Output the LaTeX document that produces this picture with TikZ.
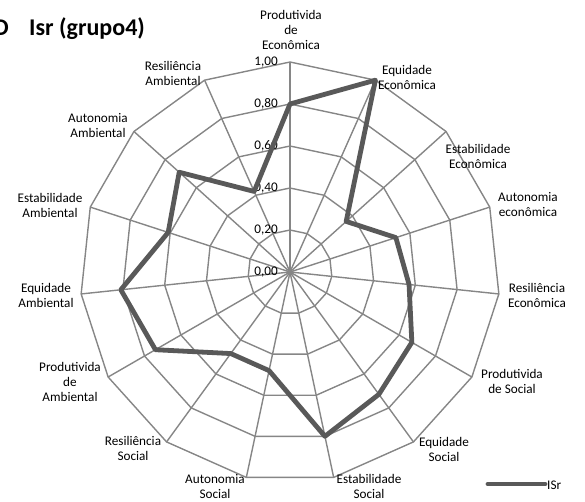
\documentclass[tikz,border=0pt]{standalone}
\usepackage{fontspec}
\setmainfont{Carlito}
\definecolor{gridgray}{RGB}{134,134,134}
\definecolor{seriesgray}{RGB}{89,89,89}
\begin{document}
\begin{tikzpicture}[x=1pt,y=-1pt,
  gridline/.style={draw=gridgray,line width=1.4pt},
  series/.style={draw=seriesgray,line width=4.8pt,line join=round},
  axislabel/.style={align=center,font=\fontsize{13.2}{15}\selectfont,inner sep=0pt},
  ticklabel/.style={anchor=east,font=\fontsize{13.2}{15}\selectfont,inner sep=0pt},
  titletext/.style={font=\fontsize{24}{28}\selectfont\bfseries,inner sep=0pt}]
\useasboundingbox (0,0) rectangle (585,501);
\clip (0,0) rectangle (585,501);
\def\cx{290}\def\cy{272}\def\R{210}
% grid vertices: 15 axes, 5 rings
\coordinate (c) at (\cx,\cy);
\foreach \k in {0,...,14}{
  \foreach \r in {1,...,5}{
    \coordinate (g\k-\r) at ({\cx+\R*\r/5*cos(90-24*\k)},{\cy-\R*\r/5*sin(90-24*\k)});
  }
}
% spokes
\foreach \k in {0,...,14} \draw[gridline] (c) -- (g\k-5);
% rings
\foreach \r in {1,...,5}
  \draw[gridline] (g0-\r) \foreach \k in {1,...,14}{ -- (g\k-\r)} -- cycle;
% scale labels
\foreach \r/\t in {0/{0,00},1/{0,20},2/{0,40},3/{0,60},4/{0,80},5/{1,00}}
  \node[ticklabel] (t\r) at (278,{\cy-42*\r}) {\t};
% axis labels
\node[axislabel] (a0)  at (291,30)  {Produtivida\\de\\Econômica};
\node[axislabel] (a1)  at (407,77)  {Equidade\\Econômica};
\node[axislabel] (a2)  at (478,156) {Estabilidade\\Econômica};
\node[axislabel] (a3)  at (528,205) {Autonomia\\econômica};
\node[axislabel] (a4)  at (537,295) {Resiliência\\Econômica};
\node[axislabel] (a5)  at (512,381) {Produtivida\\de Social};
\node[axislabel] (a6)  at (444,449) {Equidade\\Social};
\node[axislabel] (a7)  at (369,486) {Estabilidade\\Social};
\node[axislabel] (a8)  at (215,486) {Autonomia\\Social};
\node[axislabel] (a9)  at (133,448) {Resiliência\\Social};
\node[axislabel] (a10) at (70,382)  {Produtivida\\de\\Ambiental};
\node[axislabel] (a11) at (46,295)  {Equidade\\Ambiental};
\node[axislabel] (a12) at (50,205)  {Estabilidade\\Ambiental};
\node[axislabel] (a13) at (98,126)  {Autonomia\\Ambiental};
\node[axislabel] (a14) at (173,73)  {Resiliência\\Ambiental};
% data series
\foreach \v [count=\k from 0] in {0.80,1.00,0.36,0.53,0.57,0.67,0.72,0.80,0.48,0.48,0.74,0.81,0.61,0.71,0.42}
  \coordinate (d\k) at ({\cx+\R*\v*cos(90-24*\k)},{\cy-\R*\v*sin(90-24*\k)});
\draw[series] (d0) \foreach \k in {1,...,14}{ -- (d\k)} -- cycle;
% title
\node[titletext,anchor=base east] (panel) at (9,35) {D};
\node[titletext,anchor=base west] (title) at (29,35) {Isr (grupo4)};
% legend
\coordinate (l1) at (488,484);
\coordinate (l2) at (545,484);
\draw[series,line cap=round] (l1) -- (l2);
\node[anchor=west,inner sep=0pt,font=\fontsize{13.2}{15}\selectfont] (legtext) at (547,485) {ISr};
\end{tikzpicture}
\end{document}
